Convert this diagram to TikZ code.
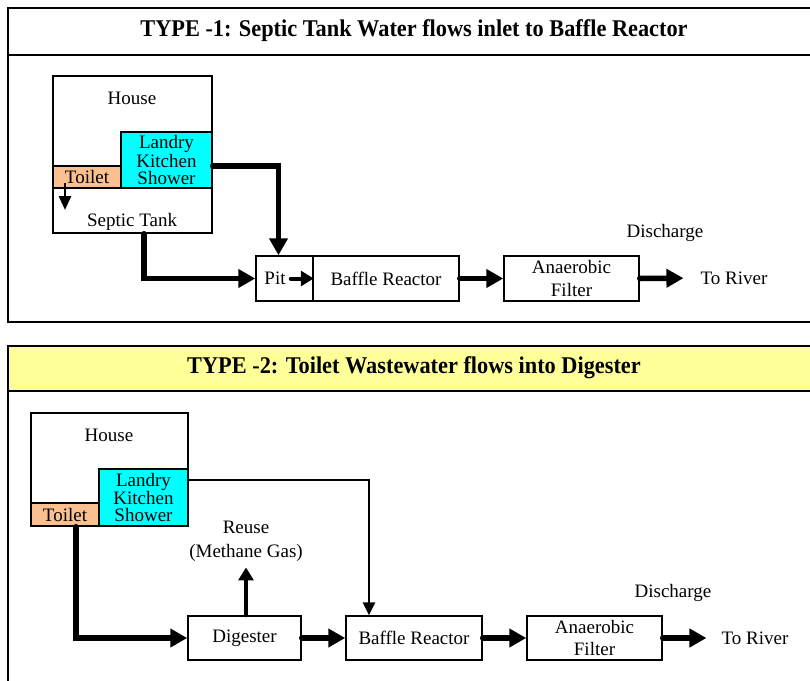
\documentclass[tikz,border=0pt]{standalone}
\usepackage{fontspec}
\setmainfont{Liberation Serif}
\usetikzlibrary{arrows.meta,calc}
\definecolor{washcol}{HTML}{00FFFF}
\definecolor{wccol}{HTML}{FAC090}
\definecolor{bandcol}{HTML}{FFFF99}
\newcommand{\headline}[1]{\scalebox{0.93}[1]{#1}}
\begin{document}
\begin{tikzpicture}[x=1pt,y=-1pt,
  frame/.style={draw,line width=1.6pt},
  titletext/.style={inner sep=0pt,font=\bfseries\fontsize{24}{26}\selectfont},
  box/.style={draw,line width=1.5pt,inner sep=0pt,align=center,
    font=\fontsize{19}{22}\selectfont},
  tight/.style={font=\fontsize{19}{17}\selectfont},
  lbl/.style={inner sep=0pt,align=center,font=\fontsize{19}{24}\selectfont},
  flow/.style={line width=5.5pt,line cap=round,-{Triangle[length=17pt,width=18pt]}},
  midflow/.style={line width=4pt,line cap=round,-{Triangle[length=13pt,width=15pt]}},
  smallflow/.style={line width=2.8pt,-{Triangle[length=14pt,width=12pt]}},
  pipe/.style={line width=2.8pt,line cap=round,-{Triangle[length=13pt,width=12pt]}}]
\useasboundingbox (0,0) rectangle (810,680);
\clip (0,0) rectangle (810,680);

% ---------- panel 1 ----------
\draw[frame,fill=white] (8,8) rectangle (830,322);
\draw[frame] (8,55) -- (830,55);
\node[titletext] (title1) at (414,31) {\headline{TYPE -1: Septic Tank Water flows inlet to Baffle Reactor}};

\node[box,minimum width=159pt,minimum height=157pt] (house1) at (132.5,154.5) {};
\node[lbl] (houselbl1) at (132,98) {House};
\node[lbl] (septic1) at (132,222) {Septic Tank};
\node[box,tight,fill=washcol,minimum width=91pt,minimum height=56pt] (wash1) at (166.5,160) {Landry\\Kitchen\\Shower};
\node[box,fill=wccol,minimum width=68pt,minimum height=22pt] (wc1) at (87,177) {Toilet};
\coordinate (drop1) at (65,210);
\draw[smallflow] ($(wc1.south)+(-22,-6)$) -- (drop1);

\node[box,minimum width=57pt,minimum height=45pt] (pit) at (284.5,278.5) {\hspace*{-19pt}Pit};
\node[box,minimum width=146pt,minimum height=45pt] (baffle1) at (386,278.5) {Baffle Reactor};
\node[box,minimum width=135pt,minimum height=45pt,font=\fontsize{19}{23}\selectfont] (anaer1) at (571.5,278.5) {Anaerobic\\Filter};
\node[lbl] (river1) at (734,278) {To River};
\node[lbl] (disch1) at (665,233) {Discharge};

\draw[flow] ($(house1.south)+(11.5,0)$) |- (pit.west);
\draw[flow] ($(wash1.east)+(0,6)$) -| ($(pit.north)+(-6,0)$);
\draw[midflow] ($(pit.east)+(-23,0)$) -- (pit.east);
\draw[flow] (baffle1.east) -- (anaer1.west);
\draw[flow,shorten >=17pt] (anaer1.east) -- (river1.west);

% ---------- panel 2 ----------
\draw[frame,fill=bandcol] (8,346) rectangle (830,391);
\draw[frame,fill=white] (8,391) rectangle (830,700);
\node[titletext] (title2) at (414,368) {\headline{TYPE -2: Toilet Wastewater flows into Digester}};

\node[box,minimum width=157pt,minimum height=113pt] (house2) at (109.5,469.5) {};
\node[lbl] (houselbl2) at (109,435) {House};
\node[box,tight,fill=washcol,minimum width=89pt,minimum height=57pt] (wash2) at (143.5,497.5) {Landry\\Kitchen\\Shower};
\node[box,fill=wccol,minimum width=68pt,minimum height=23pt] (wc2) at (65,514.5) {Toilet};

\node[box,minimum width=113pt,minimum height=44pt] (digest) at (244.5,638) {Digester};
\node[box,minimum width=136pt,minimum height=44pt] (baffle2) at (414,638) {Baffle Reactor};
\node[box,minimum width=135pt,minimum height=44pt,font=\fontsize{19}{22}\selectfont] (anaer2) at (594.5,638) {Anaerobic\\Filter};
\node[lbl] (river2) at (755,638) {To River};
\node[lbl] (disch2) at (673,593) {Discharge};
\node[lbl] (reuse) at (246,541) {Reuse\\(Methane Gas)};

\draw[flow] ($(wc2.south)+(11,0)$) |- (digest.west);
\draw[midflow,shorten >=6pt] ($(digest.north)+(1.5,0)$) -- (reuse.south);
\draw[pipe] ($(wash2.east)+(0,-17.5)$) -| ($(baffle2.north)+(-45,0)$);
\draw[flow] (digest.east) -- (baffle2.west);
\draw[flow] (baffle2.east) -- (anaer2.west);
\draw[flow,shorten >=15pt] (anaer2.east) -- (river2.west);
\end{tikzpicture}
\end{document}
